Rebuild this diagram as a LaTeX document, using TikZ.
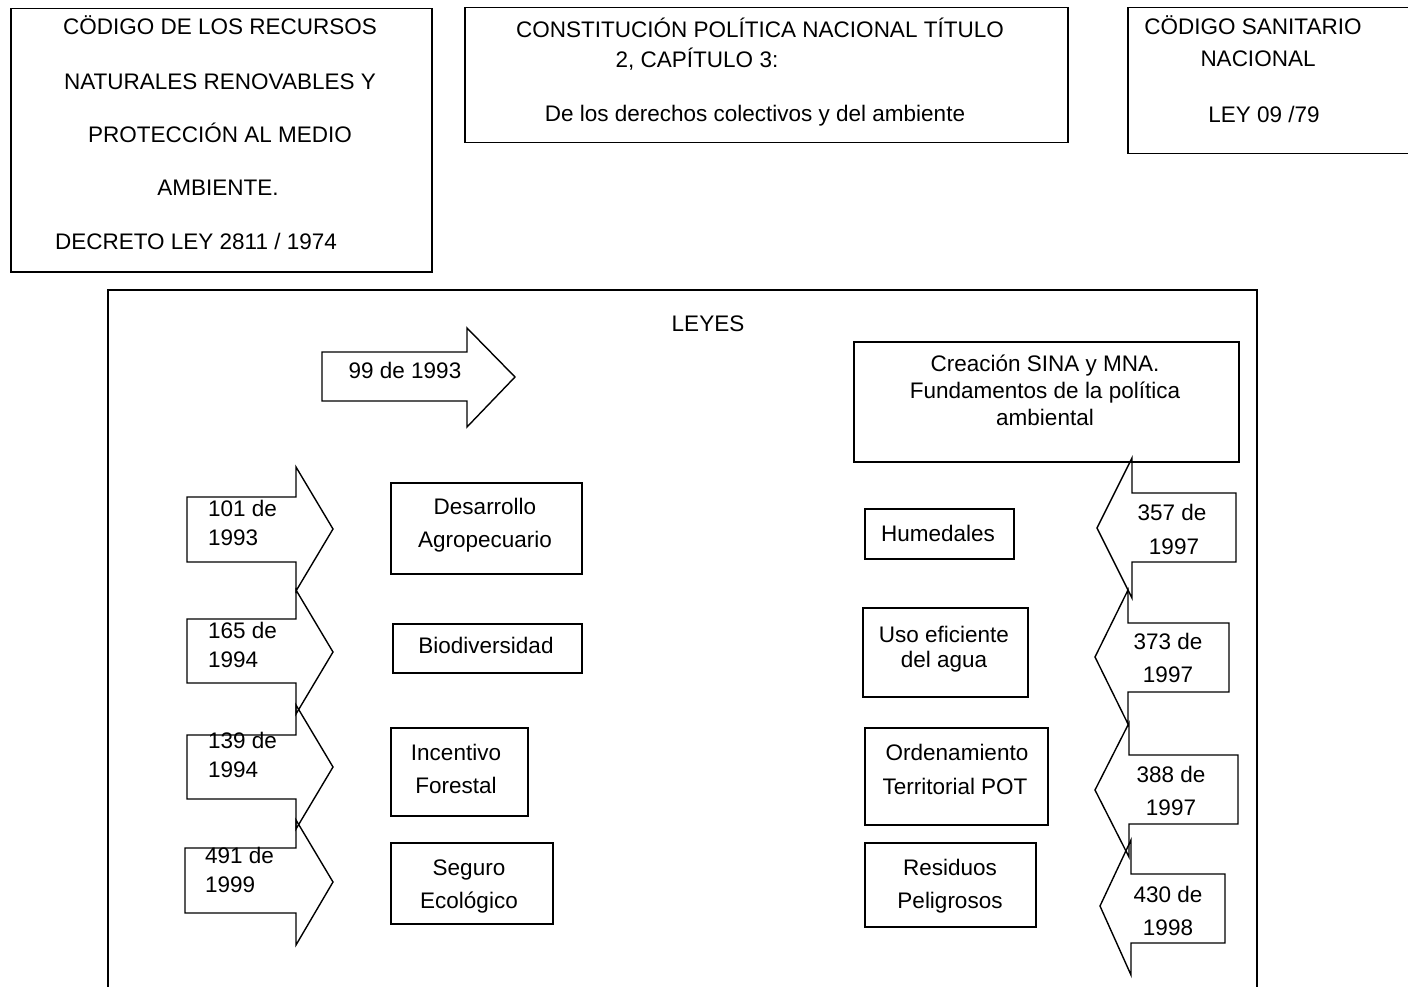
\documentclass[tikz,border=0pt]{standalone}
\usepackage{fontspec}
\setmainfont{Liberation Sans}
\begin{document}
\begin{tikzpicture}[x=1pt,y=-1pt,
  frame/.style={draw, line width=1.5pt, inner sep=0pt, anchor=north west},
  lbl/.style={font=\fontsize{22.5}{26}\selectfont, anchor=base, inner sep=0pt},
  llbl/.style={lbl, anchor=base west},
  blockarrow/.style={draw, line width=1.4pt, line join=miter}]
\clip (0,0) rectangle (1408,987);
\fill[white] (0,0) rectangle (1408,987);

% --- upper frames ---
\node[frame, minimum width=421pt, minimum height=263pt] (codigo) at (10,8) {};
\node[lbl] (c1) at (220,34.5) {CÖDIGO DE LOS RECURSOS};
\node[lbl] (c2) at (220,89.5) {NATURALES RENOVABLES Y};
\node[lbl] (c3) at (220,142.5) {PROTECCIÓN AL MEDIO};
\node[lbl] (c4) at (218,195.5) {AMBIENTE.};
\node[lbl] (c5) at (196,249.5) {DECRETO LEY 2811 / 1974};

\node[frame, minimum width=603pt, minimum height=135pt] (constitucion) at (464,7) {};
\node[lbl] (k1) at (760,37.5) {CONSTITUCIÓN POLÍTICA NACIONAL TÍTULO};
\node[lbl] (k2) at (697,67.5) {2, CAPÍTULO 3:};
\node[lbl] (k3) at (755,121.5) {De los derechos colectivos y del ambiente};

\node[frame, minimum width=293pt, minimum height=146pt] (sanitario) at (1127,7) {};
\node[lbl] (s1) at (1253,34.5) {CÖDIGO SANITARIO};
\node[lbl] (s2) at (1258,66.5) {NACIONAL};
\node[lbl] (s3) at (1264,122.5) {LEY 09 /79};

% --- laws frame ---
\node[frame, minimum width=1149pt, minimum height=720pt] (leyes) at (107,289) {};
\node[lbl] (leyestit) at (708,331.5) {LEYES};

% 99 de 1993
\draw[blockarrow] (322,352) -- (467,352) -- (467,328) -- (515,377) -- (467,427) -- (467,401) -- (322,401) -- cycle;
\node[lbl] (a99) at (405,378.5) {99 de 1993};

\node[frame, minimum width=385pt, minimum height=120pt] (sina) at (853,341) {};
\node[lbl] (n1) at (1045,371.5) {Creación SINA y MNA.};
\node[lbl] (n2) at (1045,398.5) {Fundamentos de la política};
\node[lbl] (n3) at (1045,425.5) {ambiental};

% --- left column of laws ---
\draw[blockarrow] (187,497) -- (296,497) -- (296,467) -- (333,529) -- (296,591) -- (296,562) -- (187,562) -- cycle;
\node[llbl] (l1a) at (208,516.5) {101 de};
\node[llbl] (l1b) at (208,545.5) {1993};

\draw[blockarrow] (187,619) -- (296,619) -- (296,590) -- (333,652) -- (296,714) -- (296,683) -- (187,683) -- cycle;
\node[llbl] (l2a) at (208,638.5) {165 de};
\node[llbl] (l2b) at (208,667.5) {1994};

\draw[blockarrow] (187,735) -- (296,735) -- (296,705) -- (333,767) -- (296,829) -- (296,799) -- (187,799) -- cycle;
\node[llbl] (l3a) at (208,748.5) {139 de};
\node[llbl] (l3b) at (208,777.5) {1994};

\draw[blockarrow] (185,848) -- (296,848) -- (296,820) -- (333,882) -- (296,945) -- (296,913) -- (185,913) -- cycle;
\node[llbl] (l4a) at (205,863.5) {491 de};
\node[llbl] (l4b) at (205,892.5) {1999};

\node[frame, minimum width=191pt, minimum height=91pt] (desarrollo) at (390,482) {};
\node[lbl] (d1) at (485,514.5) {Desarrollo};
\node[lbl] (d2) at (485,547.5) {Agropecuario};

\node[frame, minimum width=189pt, minimum height=49pt] (biodiv) at (392,623) {};
\node[lbl] (b1) at (486,653.5) {Biodiversidad};

\node[frame, minimum width=137pt, minimum height=88pt] (incentivo) at (390,727) {};
\node[lbl] (i1) at (456,760.5) {Incentivo};
\node[lbl] (i2) at (456,793.5) {Forestal};

\node[frame, minimum width=162pt, minimum height=81pt] (seguro) at (390,842) {};
\node[lbl] (g1) at (469,875.5) {Seguro};
\node[lbl] (g2) at (469,908.5) {Ecológico};

% --- right column of laws ---
\draw[blockarrow] (1236,493) -- (1132,493) -- (1132,458) -- (1097,528) -- (1132,598) -- (1132,562) -- (1236,562) -- cycle;
\node[lbl] (r1a) at (1172,520.5) {357 de};
\node[lbl] (r1b) at (1174,554.5) {1997};

\draw[blockarrow] (1229,623) -- (1128,623) -- (1128,590) -- (1095,657) -- (1128,724) -- (1128,692) -- (1229,692) -- cycle;
\node[lbl] (r2a) at (1168,649.5) {373 de};
\node[lbl] (r2b) at (1168,682.5) {1997};

\draw[blockarrow] (1238,755) -- (1129,755) -- (1129,723) -- (1095,790) -- (1129,857) -- (1129,824) -- (1238,824) -- cycle;
\node[lbl] (r3a) at (1171,782.5) {388 de};
\node[lbl] (r3b) at (1171,815.5) {1997};

\draw[blockarrow] (1225,874) -- (1131,874) -- (1131,840) -- (1100,906) -- (1131,975) -- (1131,943) -- (1225,943) -- cycle;
\node[lbl] (r4a) at (1168,902.5) {430 de};
\node[lbl] (r4b) at (1168,935.5) {1998};

\node[frame, minimum width=149pt, minimum height=50pt] (humedales) at (864,508) {};
\node[lbl] (h1) at (938,541.5) {Humedales};

\node[frame, minimum width=165pt, minimum height=89pt] (uso) at (862,607) {};
\node[lbl] (u1) at (944,642.5) {Uso eficiente};
\node[lbl] (u2) at (944,667.5) {del agua};

\node[frame, minimum width=183pt, minimum height=97pt] (orden) at (864,727) {};
\node[lbl] (o1) at (957,760.5) {Ordenamiento};
\node[lbl] (o2) at (955,794.5) {Territorial POT};

\node[frame, minimum width=171pt, minimum height=84pt] (residuos) at (864,842) {};
\node[lbl] (p1) at (950,875.5) {Residuos};
\node[lbl] (p2) at (950,908.5) {Peligrosos};
\end{tikzpicture}
\end{document}
